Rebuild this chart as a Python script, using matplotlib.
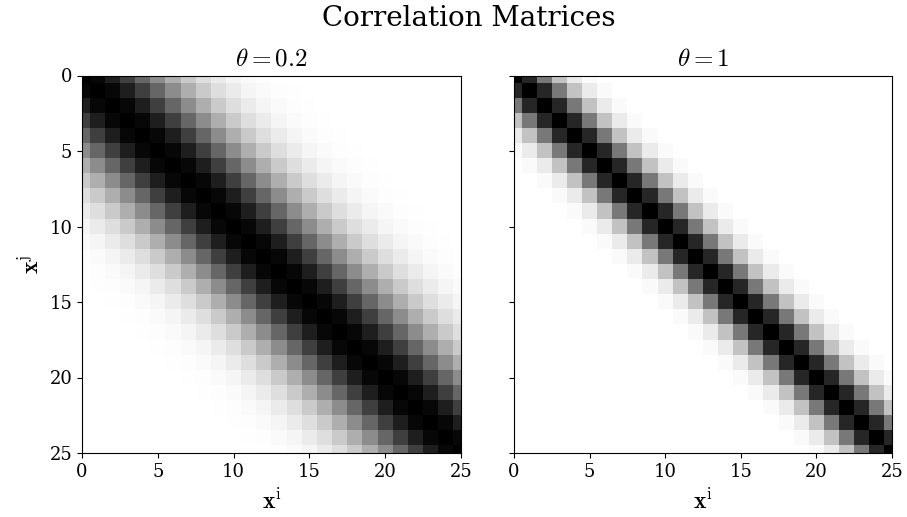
import numpy as np
import matplotlib
matplotlib.use("Agg")
import matplotlib.pyplot as plt

# Correlation vs. index offset |i - j| (gray level)
n_points = 26
corr_theta_02 = [1.00, 0.97, 0.88, 0.75, 0.60, 0.45, 0.32, 0.21, 0.13, 0.08,
                 0.04, 0.02, 0.01, 0.005, 0.002]
corr_theta_1 = [1.00, 0.85, 0.53, 0.24, 0.08, 0.02, 0.003]
titles = [r"$\theta = 0.2$", r"$\theta = 1$"]
ticks = [0, 5, 10, 15, 20, 25]


def toeplitz(vals, n):
    m = np.zeros((n, n))
    for i in range(n):
        for j in range(n):
            d = abs(i - j)
            m[i, j] = vals[d] if d < len(vals) else 0.0
    return m


plt.rcParams['font.family'] = ['DejaVu Serif']
plt.rcParams['mathtext.fontset'] = 'cm'

fig = plt.figure(figsize=(9.07, 5.17), dpi=100)
ax1 = fig.add_axes([82 / 907, 64 / 517, 379 / 907, 377.5 / 517])
ax2 = fig.add_axes([514 / 907, 64 / 517, 378 / 907, 377.5 / 517], sharey=ax1)

for ax, vals, t in zip([ax1, ax2], [corr_theta_02, corr_theta_1], titles):
    M = toeplitz(vals, n_points)
    ax.imshow(M, cmap='gray_r', vmin=0, vmax=1, interpolation='nearest', aspect='auto')
    ax.set_xlim(0, 25)
    ax.set_ylim(25, 0)
    ax.set_xticks(ticks)
    ax.set_yticks(ticks)
    ax.tick_params(labelsize=13)
    ax.set_title(t, fontsize=18, pad=7)
    ax.set_xlabel(r"$\mathbf{x}^{\mathrm{i}}$", fontsize=17, labelpad=6)

ax1.set_ylabel(r"$\mathbf{x}^{\mathrm{j}}$", fontsize=17, labelpad=4)
plt.setp(ax2.get_yticklabels(), visible=False)
fig.suptitle("Correlation Matrices", fontsize=20, x=469 / 907, y=0.99)

fig.savefig("out.png", dpi=100)
